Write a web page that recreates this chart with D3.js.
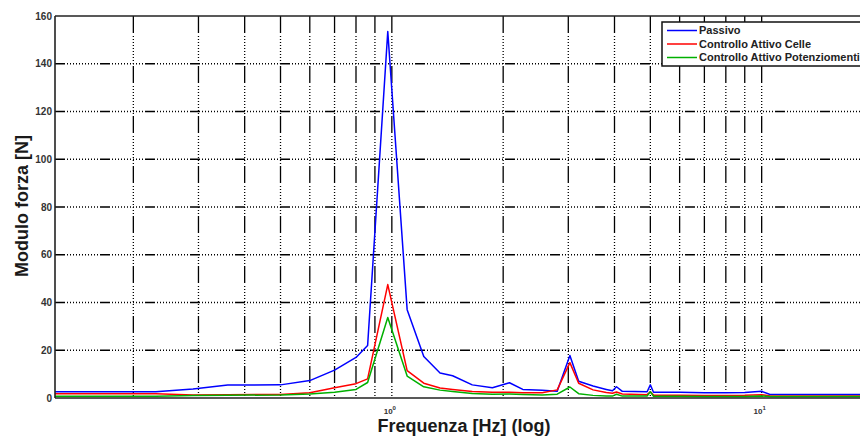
<!DOCTYPE html>
<html>
<head>
<meta charset="utf-8">
<script src="https://cdn.jsdelivr.net/npm/d3@7"></script>
<style>
  html, body { margin: 0; padding: 0; background: #fff; }
  svg { display: block; }
  text { font-family: "Liberation Sans", Arial, sans-serif; }
</style>
</head>
<body>
<svg id="chart" width="860" height="437"></svg>
<script>
// Frequency points [Hz]
const freqs = [0.1228, 0.23, 0.29, 0.36, 0.5, 0.6, 0.7, 0.8, 0.86, 0.975, 1.1, 1.22, 1.35, 1.46, 1.65, 1.87,
  2.08, 2.26, 2.55, 2.8, 3.03, 3.2, 3.5, 3.8, 3.95, 4.05, 4.2, 4.9, 5.0, 5.1, 6.0, 7.0, 8.0, 9.0, 10.0, 10.5, 20];

// Force amplitude [N] per configuration
const passivo = [2.6, 2.6, 3.8, 5.4, 5.5, 7.3, 11.7, 17.0, 22.0, 153.5, 37.0, 17.4, 10.5, 9.3, 5.5, 4.3,
  6.4, 3.6, 3.2, 2.8, 17.8, 7.0, 5.0, 3.6, 3.0, 4.7, 2.8, 2.6, 5.5, 2.4, 2.4, 2.2, 2.2, 2.3, 2.8, 1.6, 1.5];
const attivoCelle = [1.8, 1.8, 1.3, 1.4, 1.5, 2.2, 4.3, 6.0, 8.0, 47.5, 11.5, 6.2, 4.2, 3.6, 2.7, 2.4,
  2.4, 2.2, 2.2, 3.4, 14.8, 6.2, 3.4, 2.3, 2.0, 2.5, 1.7, 1.4, 2.6, 1.2, 1.2, 1.0, 1.0, 1.1, 1.4, 0.9, 0.8];
const attivoPotenziometri = [0.7, 0.7, 1.0, 1.1, 1.3, 1.7, 2.4, 3.6, 6.5, 33.7, 9.2, 4.7, 3.3, 2.7, 1.9, 1.6,
  1.7, 1.5, 1.3, 1.6, 4.6, 1.8, 1.1, 0.8, 0.8, 1.6, 0.8, 0.8, 2.6, 0.7, 0.7, 0.6, 0.6, 0.6, 0.8, 0.6, 0.6];

const seriesNames = ["Passivo", "Controllo Attivo Celle", "Controllo Attivo Potenziomenti"];
const seriesColors = ["#0000ff", "#ff0000", "#00b000"];

const yTicks = [0, 20, 40, 60, 80, 100, 120, 140, 160];
const xGrid = [0.2, 0.3, 0.4, 0.5, 0.6, 0.7, 0.8, 0.9, 1, 2, 3, 4, 5, 6, 7, 8, 9, 10];
const xTickLabels = [{ v: 1, base: "10", exp: "0" }, { v: 10, base: "10", exp: "1" }];

const svg = d3.select("#chart");
const plotLeft = 55, plotTop = 16, plotBottom = 398, plotRight = 873;

const x = d3.scaleLog().domain([0.1228, 20]).range([plotLeft, plotRight]);
const y = d3.scaleLinear().domain([0, 160]).range([plotBottom, plotTop]);

svg.append("defs").append("clipPath").attr("id", "plotClip")
  .append("rect").attr("x", plotLeft).attr("y", plotTop)
  .attr("width", plotRight - plotLeft).attr("height", plotBottom - plotTop);

// Grid: dotted lines with a long dash every period
const gGrid = svg.append("g");
const hDash = "10,2" + ",1,2".repeat(11);
const vDash = "17,3" + ",1,2".repeat(10);
gGrid.selectAll("line.h").data(yTicks.filter(d => d > 0 && d < 160)).join("line")
  .attr("x1", plotLeft).attr("x2", plotRight)
  .attr("y1", d => y(d)).attr("y2", d => y(d))
  .attr("stroke", "#000").attr("stroke-width", 1.3)
  .attr("stroke-dasharray", hDash);
gGrid.selectAll("line.v").data(xGrid).join("line")
  .attr("x1", d => x(d)).attr("x2", d => x(d))
  .attr("y1", plotTop).attr("y2", plotBottom)
  .attr("stroke", "#000").attr("stroke-width", 1.3)
  .attr("stroke-dasharray", vDash);

// Series
const allSeries = [passivo, attivoCelle, attivoPotenziometri];
const line = d3.line().x((d, i) => x(freqs[i])).y(d => y(d));
const gLines = svg.append("g").attr("clip-path", "url(#plotClip)");
allSeries.forEach((vals, k) => {
  gLines.append("path").datum(vals)
    .attr("d", line)
    .attr("fill", "none")
    .attr("stroke", seriesColors[k])
    .attr("stroke-width", 1.5)
    .attr("stroke-linejoin", "round");
});

// Axes box
svg.append("line").attr("x1", plotLeft).attr("x2", plotRight).attr("y1", plotTop).attr("y2", plotTop)
  .attr("stroke", "#222").attr("stroke-width", 1.6);
svg.append("line").attr("x1", plotLeft).attr("x2", plotRight).attr("y1", plotBottom).attr("y2", plotBottom)
  .attr("stroke", "#222").attr("stroke-width", 1.6);
svg.append("line").attr("x1", plotLeft).attr("x2", plotLeft).attr("y1", plotTop).attr("y2", plotBottom)
  .attr("stroke", "#222").attr("stroke-width", 1.6);

// Y tick labels
svg.append("g").selectAll("text").data(yTicks).join("text")
  .attr("x", plotLeft - 3).attr("y", d => y(d)).attr("dy", "0.35em")
  .attr("text-anchor", "end")
  .attr("font-size", 10).attr("font-weight", "bold").attr("fill", "#333")
  .text(d => d);

// X tick labels (powers of ten)
const xl = svg.append("g").selectAll("text").data(xTickLabels).join("text")
  .attr("x", d => x(d.v) - 2).attr("y", 414)
  .attr("text-anchor", "middle")
  .attr("font-size", 8).attr("font-weight", "bold").attr("fill", "#333");
xl.append("tspan").text(d => d.base);
xl.append("tspan").attr("dy", -4).attr("font-size", 6).text(d => d.exp);

// Axis titles
svg.append("text").attr("x", 464).attr("y", 432).attr("text-anchor", "middle")
  .attr("font-size", 18).attr("font-weight", "bold").attr("fill", "#1a1a1a")
  .text("Frequenza [Hz] (log)");
svg.append("text").attr("transform", "translate(28,206) rotate(-90)").attr("text-anchor", "middle")
  .attr("font-size", 18).attr("font-weight", "bold").attr("fill", "#1a1a1a")
  .text("Modulo forza [N]");

// Legend
const lg = svg.append("g");
lg.append("rect").attr("x", 662).attr("y", 22).attr("width", 240).attr("height", 44)
  .attr("fill", "#fff").attr("stroke", "#111").attr("stroke-width", 1.5);
seriesNames.forEach((name, k) => {
  const yy = 30.5 + k * 13.5;
  lg.append("line").attr("x1", 667).attr("x2", 697).attr("y1", yy).attr("y2", yy)
    .attr("stroke", seriesColors[k]).attr("stroke-width", 1.5);
  lg.append("text").attr("x", 699).attr("y", yy).attr("dy", "0.35em")
    .attr("font-size", 11).attr("font-weight", "bold").attr("fill", "#222")
    .text(name);
});
</script>
</body>
</html>
